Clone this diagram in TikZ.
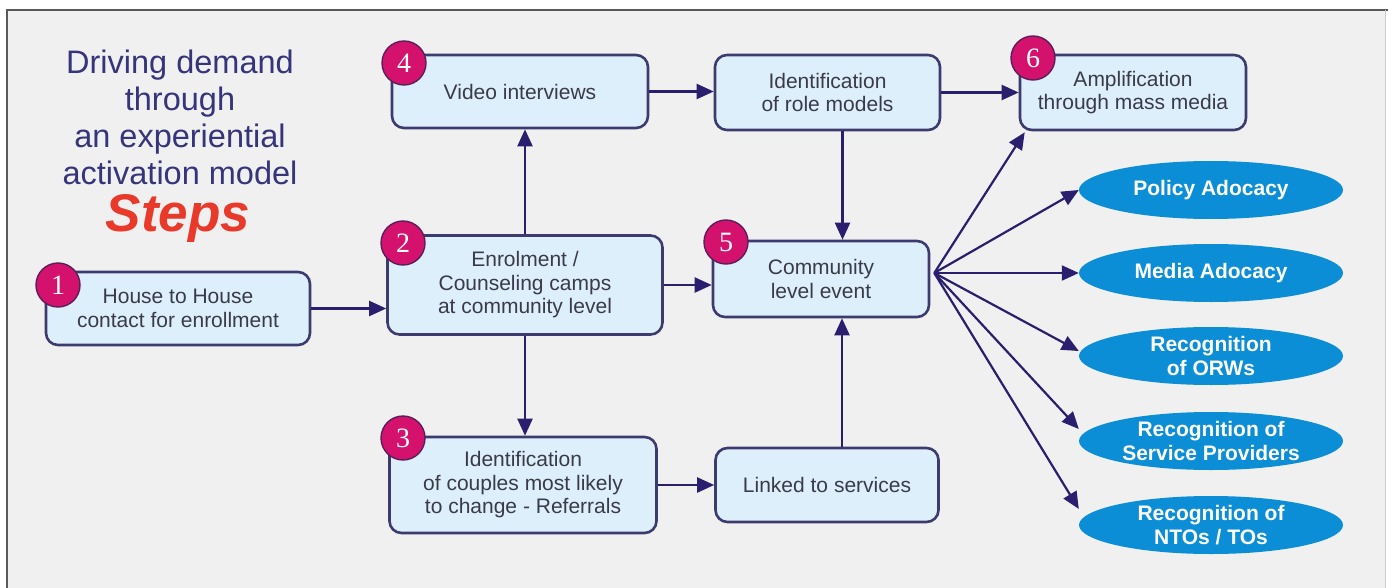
\documentclass[tikz,border=0pt]{standalone}
\usepackage{fontspec}
\setmainfont{Liberation Sans}
\newfontfamily\badgefont{Liberation Serif}
\usetikzlibrary{arrows.meta,shapes.geometric,calc}
\definecolor{bgc}{HTML}{F0F0F0}
\definecolor{boxfill}{HTML}{DDEFFB}
\definecolor{boxline}{HTML}{3D3A6E}
\definecolor{arrc}{HTML}{2A1F6E}
\definecolor{ellc}{HTML}{0B8ED6}
\definecolor{badgec}{HTML}{D4126E}
\definecolor{badgeline}{HTML}{5A1F5A}
\definecolor{titlec}{HTML}{36347A}
\definecolor{txtc}{HTML}{3A3A48}
\definecolor{stepsc}{HTML}{E8392A}
\tikzset{
  stepbox/.style={draw=boxline, line width=2.6pt, fill=boxfill, rounded corners=12pt,
    align=center, text=txtc, inner sep=0pt,
    font=\fontsize{21}{23.5}\selectfont},
  oval/.style={ellipse, fill=ellc, draw=none, minimum width=264pt, minimum height=58pt,
    inner sep=0pt, align=center, text=white, font=\bfseries\fontsize{21}{24}\selectfont},
  badge/.style={circle, fill=badgec, draw=badgeline, line width=1.4pt, minimum size=44pt,
    inner sep=0pt, text=white, font=\badgefont\fontsize{28}{28}\selectfont},
  conn/.style={draw=arrc, line width=2.2pt, -{Triangle[length=17pt,width=15pt]}},
}
\begin{document}
\begin{tikzpicture}[x=1pt,y=-1pt]
\useasboundingbox (0,0) rectangle (1388,588);
\fill[white] (0,0) rectangle (1388,588);
\fill[bgc] (7,10) rectangle (1385,588);
\draw[gray!70!black, line width=1.2pt] (7,590) -- (7,10) -- (1388,10);
\draw[gray!40, line width=0.8pt] (1385,10) -- (1385,590);

% title
\node[text=titlec, align=center, font=\fontsize{32.5}{37}\selectfont] (title) at (180,117)
  {Driving demand\\through\\an experiential\\activation model};
\node[text=stepsc, font=\bfseries\itshape\fontsize{53}{53}\selectfont] (steps) at (178,218) {Steps};

% boxes
\node[stepbox, minimum width=264pt, minimum height=73pt] (b1) at (178,308.5)
  {House to House\\contact for enrollment};
\node[stepbox, minimum width=275pt, minimum height=99pt] (b2) at (525,285)
  {Enrolment /\\Counseling camps\\at community level};
\node[stepbox, minimum width=267pt, minimum height=96pt] (b3) at (523,485)
  {Identification\\of couples most likely\\to change - Referrals};
\node[stepbox, minimum width=256pt, minimum height=73pt] (b4) at (520,91.5)
  {Video interviews};
\node[stepbox, minimum width=225pt, minimum height=75pt] (rm) at (827.5,92.5)
  {Identification\\of role models};
\node[stepbox, minimum width=216pt, minimum height=76pt] (b5) at (821,279)
  {Community\\level event};
\node[stepbox, minimum width=226pt, minimum height=75pt] (b6) at (1133,92.5)
  {Amplification\\through mass media};
\node[stepbox, minimum width=223pt, minimum height=74pt] (ln) at (827,485)
  {Linked to services};

% ovals
\node[oval] (e1) at (1211,190) {Policy Adocacy};
\node[oval] (e2) at (1211,273) {Media Adocacy};
\node[oval] (e3) at (1211,356) {Recognition\\of ORWs};
\node[oval] (e4) at (1211,441) {Recognition of\\Service Providers};
\node[oval] (e5) at (1211,525) {Recognition of\\NTOs / TOs};

% badges
\node[badge] (n1) at (58,285) {1};
\node[badge] (n2) at (403,243) {2};
\node[badge] (n3) at (403,438) {3};
\node[badge] (n4) at (404,63) {4};
\node[badge] (n5) at (726,242) {5};
\node[badge] (n6) at (1033,58) {6};

% connectors
\draw[conn] (b1.east) -- (b1.east -| b2.west);
\draw[conn] (b2.north) -- (b2.north |- b4.south);
\draw[conn] (b2.south) -- (b2.south |- b3.north);
\draw[conn] (b2.east) -- (b2.east -| b5.west);
\draw[conn] (b3.east) -- (b3.east -| ln.west);
\draw[conn] ([xshift=15pt]ln.north) -- ([xshift=15pt]ln.north |- b5.south);
\draw[conn] ([xshift=15pt]rm.south) -- ([xshift=15pt]rm.south |- b5.north);
\draw[conn] (b4.east) -- (b4.east -| rm.west);
\draw[conn] (rm.east) -- (rm.east -| b6.west);

\coordinate (fan) at ($(b5.east)+(4,-6)$);
\draw[conn] (fan) -- ([xshift=6pt,yshift=-1pt]b6.south west);
\draw[conn] (fan) -- (e1.west);
\draw[conn] (fan) -- (e2.west);
\draw[conn] (fan) -- ([yshift=5pt]e3.west);
\draw[conn] (fan) -- ([yshift=12pt]e4.west);
\draw[conn] (fan) -- ([yshift=16pt]e5.west);
\end{tikzpicture}
\end{document}
